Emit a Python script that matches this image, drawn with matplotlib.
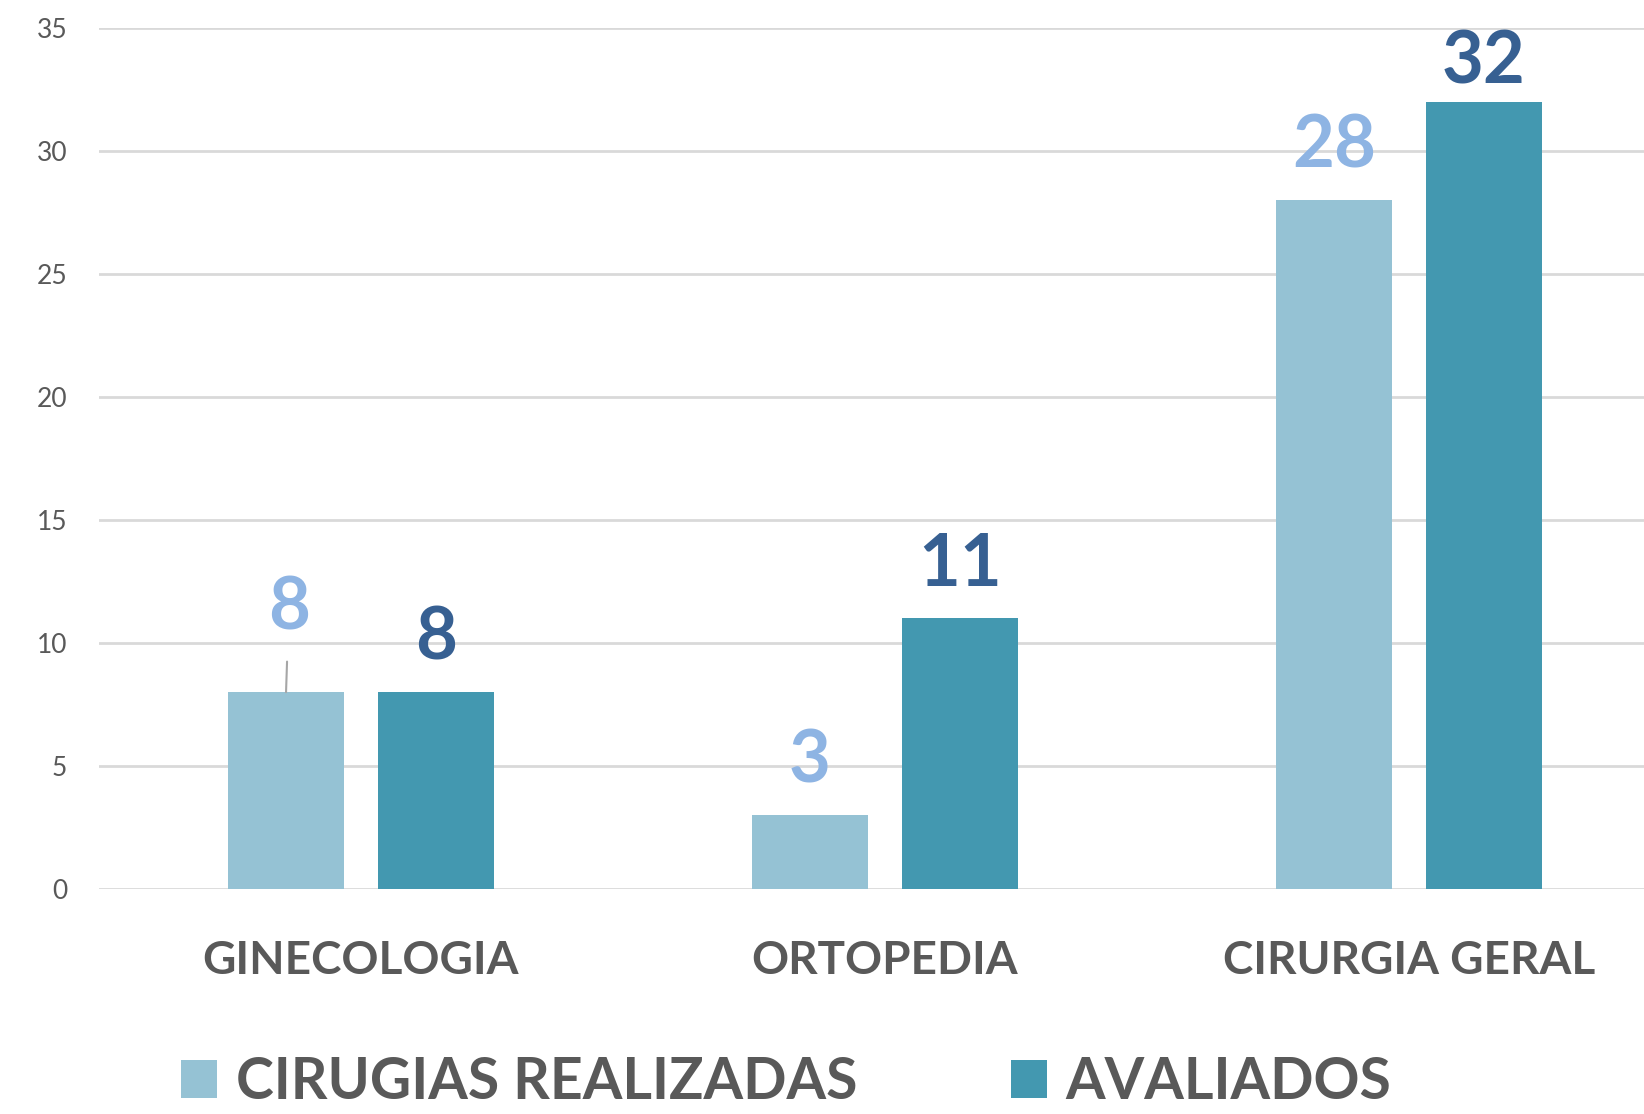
import numpy as np
import matplotlib
matplotlib.use('Agg')
import matplotlib.pyplot as plt

'''Data'''
categories = ['GINECOLOGIA', 'ORTOPEDIA', 'CIRURGIA GERAL']
realizadas = [8, 3, 28]
avaliados = [8, 11, 32]
series_names = ['CIRUGIAS REALIZADAS', 'AVALIADOS']
yticks = [0, 5, 10, 15, 20, 25, 30, 35]

'''Style'''
plt.rcParams['font.family'] = ['Lato', 'DejaVu Sans']
light = '#95C2D4'
dark = '#4398B0'
light_lbl = '#8EB4E3'
dark_lbl = '#376092'
gray = '#595959'
grid_c = '#D9D9D9'

fig = plt.figure(figsize=(16.44, 11.14), dpi=100)
ax = fig.add_axes([0.0602, 0.2020, 0.9562, 0.7729])

x = np.arange(len(categories))
w = 0.222
off = 0.143
b1 = ax.bar(x - off, realizadas, w, color=light, label=series_names[0], zorder=2)
b2 = ax.bar(x + off, avaliados, w, color=dark, label=series_names[1], zorder=2)

ax.set_xlim(-0.5, 2.5)
ax.set_ylim(0, 35)
ax.set_yticks(yticks)
ax.yaxis.grid(True, color=grid_c, lw=2)
ax.set_axisbelow(True)
for s in ax.spines.values():
    s.set_visible(False)
ax.tick_params(axis='y', length=0, pad=23, labelsize=19, labelcolor=gray)
ax.tick_params(axis='x', length=0, pad=37)
ax.set_xticks(x)
ax.set_xticklabels(categories, fontsize=33, fontweight='bold', color=gray)

#value labels, offsets in points above bar top
off_light = [36, 14, 14]
off_dark = [14, 14, 4]
for i in range(len(categories)):
    if i == 0:
        ax.annotate(str(realizadas[i]), xy=(x[i] - off, realizadas[i]),
                    xytext=(2, off_light[i]), textcoords='offset points',
                    ha='center', va='bottom', fontsize=52, fontweight='bold', color=light_lbl,
                    arrowprops=dict(arrowstyle='-', color='#A6A6A6', lw=1.5, shrinkA=12, shrinkB=0))
    else:
        ax.annotate(str(realizadas[i]), xy=(x[i] - off, realizadas[i]),
                    xytext=(0, off_light[i]), textcoords='offset points',
                    ha='center', va='bottom', fontsize=52, fontweight='bold', color=light_lbl)
    ax.annotate(str(avaliados[i]), xy=(x[i] + off, avaliados[i]),
                xytext=(0, off_dark[i]), textcoords='offset points',
                ha='center', va='bottom', fontsize=52, fontweight='bold', color=dark_lbl)

leg = fig.legend(handles=[b1, b2], loc='upper left', bbox_to_anchor=(181 / 1644, 58 / 1114),
                 ncol=2, frameon=False, prop={'weight': 'bold', 'size': 41},
                 handlelength=0.63, handleheight=0.63, handletextpad=0.33,
                 columnspacing=2.7, borderpad=0, borderaxespad=0)
for t in leg.get_texts():
    t.set_color(gray)

fig.savefig('out.png', dpi=100)
